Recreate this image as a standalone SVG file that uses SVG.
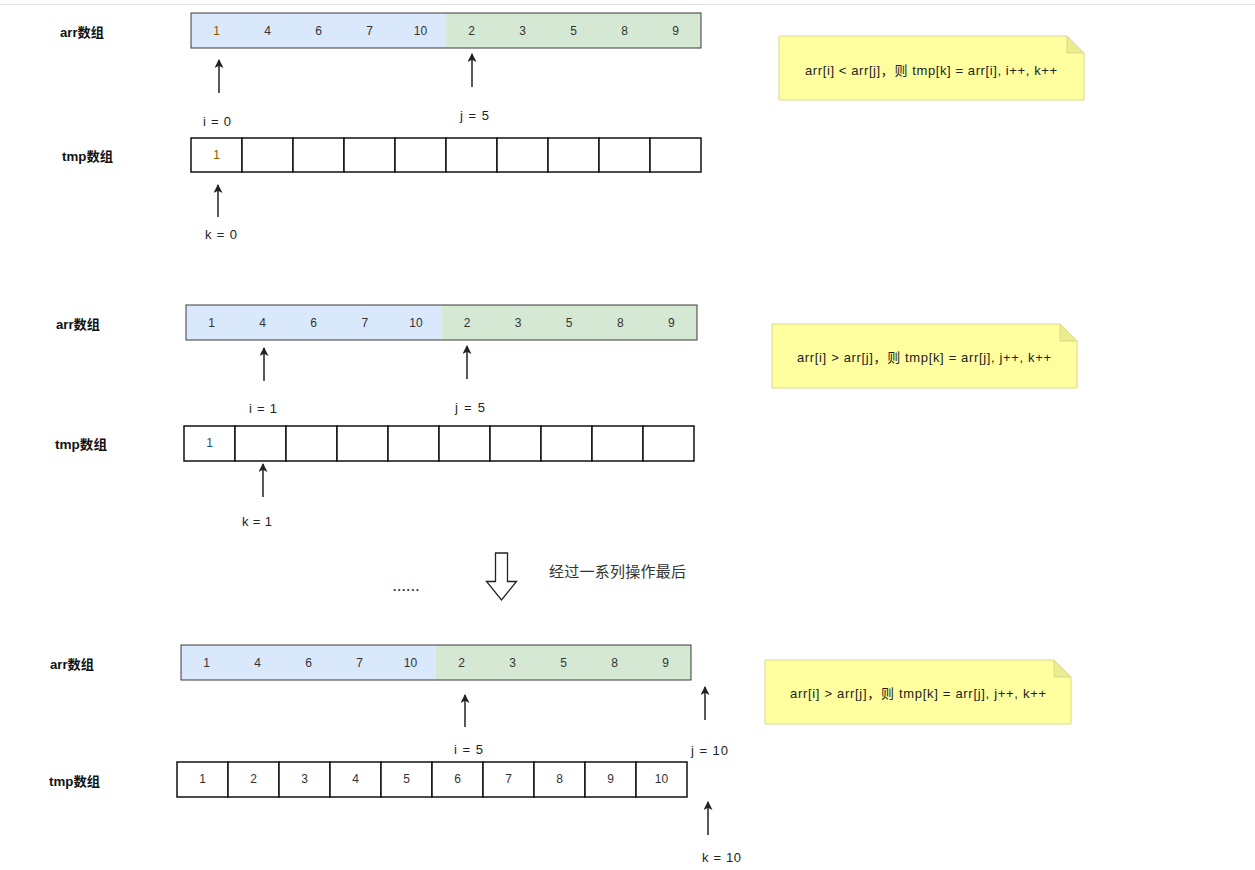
<svg xmlns="http://www.w3.org/2000/svg" width="1255" height="870" viewBox="0 0 1255 870">
<style>
text{font-family:"Liberation Sans","Noto Sans CJK SC",sans-serif;font-size:12px;fill:#333;}
.lbl{font-weight:bold;fill:#111;font-size:13px;}
.pl{font-size:13px;fill:#222;}
.c{text-anchor:middle;}
.blue{fill:#dae8fc;}
.green{fill:#d5e8d4;}
.bar{fill:none;stroke:#3a3a3a;stroke-width:1;}
.cell{fill:#fff;stroke:#111;stroke-width:1.5;}
.arr{stroke:#222;stroke-width:1.5;fill:none;marker-end:url(#ah);}
.note{fill:#ffffa0;stroke:#d9d98c;stroke-width:1;}
.fold{fill:#ebeb90;stroke:#d9d98c;stroke-width:1;}
.nt{font-size:13px;fill:#222;}
</style>
<defs>
<marker id="ah" viewBox="0 0 10 10" refX="9" refY="5" markerWidth="10" markerHeight="9" orient="auto" markerUnits="userSpaceOnUse">
<path d="M0,0 L10,5 L0,10 L2.5,5 Z" fill="#222"/>
</marker>
</defs>
<rect x="0" y="0" width="1255" height="870" fill="#fff"/>
<line x1="0" y1="4.5" x2="1255" y2="4.5" stroke="#e3e3e3" stroke-width="1"/>

<!-- Section 1 -->
<g id="s1-arr-label"><text class="lbl" x="60" y="37" textLength="44" lengthAdjust="spacingAndGlyphs">arr数组</text></g>
<g id="s1-arr">
<rect class="blue" x="191" y="13" width="255" height="35"/>
<rect class="green" x="446" y="13" width="255" height="35"/>
<rect class="bar" x="191" y="13" width="510" height="35"/>
<text class="c" y="35"><tspan x="216.5" fill="#8a5a00">1</tspan><tspan x="267.5">4</tspan><tspan x="318.5">6</tspan><tspan x="369.5">7</tspan><tspan x="420.5">10</tspan><tspan x="471.5">2</tspan><tspan x="522.5">3</tspan><tspan x="573.5">5</tspan><tspan x="624.5">8</tspan><tspan x="675.5">9</tspan></text>
</g>
<g id="s1-tmp-label"><text class="lbl" x="62" y="161" textLength="51" lengthAdjust="spacingAndGlyphs">tmp数组</text></g>
<g id="s1-tmp">
<rect class="cell" x="191" y="138" width="51" height="34"/><rect class="cell" x="242" y="138" width="51" height="34"/><rect class="cell" x="293" y="138" width="51" height="34"/><rect class="cell" x="344" y="138" width="51" height="34"/><rect class="cell" x="395" y="138" width="51" height="34"/><rect class="cell" x="446" y="138" width="51" height="34"/><rect class="cell" x="497" y="138" width="51" height="34"/><rect class="cell" x="548" y="138" width="51" height="34"/><rect class="cell" x="599" y="138" width="51" height="34"/><rect class="cell" x="650" y="138" width="51" height="34"/>
<text class="c" x="216.5" y="159" style="fill:#8a5a00">1</text>
</g>
<g id="s1-i"><text class="pl" x="203" y="126" textLength="28">i = 0</text></g>
<g id="s1-j"><text class="pl" x="460" y="120" textLength="29">j = 5</text></g>
<g id="s1-k"><text class="pl" x="205" y="239" textLength="32">k = 0</text></g>
<g id="s1-note">
<path class="note" d="M779,36 H1067 L1084,53 V100 H779 Z"/>
<path class="fold" d="M1067,36 V53 H1084 Z"/>
<text class="nt" x="805" y="75" textLength="252">arr[i] &lt; arr[j]，则 tmp[k] = arr[i], i++, k++</text>
</g>

<!-- Section 2 -->
<g id="s2-arr-label"><text class="lbl" x="56" y="329" textLength="44" lengthAdjust="spacingAndGlyphs">arr数组</text></g>
<g id="s2-arr">
<rect class="blue" x="186" y="305" width="255.5" height="35"/>
<rect class="green" x="441.5" y="305" width="255.5" height="35"/>
<rect class="bar" x="186" y="305" width="511" height="35"/>
<text class="c" y="327"><tspan x="211.5">1</tspan><tspan x="262.6">4</tspan><tspan x="313.7">6</tspan><tspan x="364.8">7</tspan><tspan x="415.9">10</tspan><tspan x="467">2</tspan><tspan x="518.1">3</tspan><tspan x="569.2">5</tspan><tspan x="620.3">8</tspan><tspan x="671.4">9</tspan></text>
</g>
<g id="s2-tmp-label"><text class="lbl" x="55" y="449" textLength="52" lengthAdjust="spacingAndGlyphs">tmp数组</text></g>
<g id="s2-tmp">
<rect class="cell" x="184" y="426" width="51" height="35"/><rect class="cell" x="235" y="426" width="51" height="35"/><rect class="cell" x="286" y="426" width="51" height="35"/><rect class="cell" x="337" y="426" width="51" height="35"/><rect class="cell" x="388" y="426" width="51" height="35"/><rect class="cell" x="439" y="426" width="51" height="35"/><rect class="cell" x="490" y="426" width="51" height="35"/><rect class="cell" x="541" y="426" width="51" height="35"/><rect class="cell" x="592" y="426" width="51" height="35"/><rect class="cell" x="643" y="426" width="51" height="35"/>
<text class="c" x="209.5" y="447" style="fill:#1f4f8a">1</text>
</g>
<g id="s2-i"><text class="pl" x="249" y="413" textLength="28">i = 1</text></g>
<g id="s2-j"><text class="pl" x="455" y="412" textLength="30">j = 5</text></g>
<g id="s2-k"><text class="pl" x="242" y="526" textLength="30">k = 1</text></g>
<g id="s2-note">
<path class="note" d="M772,324 H1060 L1077,341 V388 H772 Z"/>
<path class="fold" d="M1060,324 V341 H1077 Z"/>
<text class="nt" x="797" y="362" textLength="254">arr[i] &gt; arr[j]，则 tmp[k] = arr[j], j++, k++</text>
</g>

<!-- Middle -->
<g id="dots"><text x="393" y="591" textLength="26" style="font-weight:bold">......</text></g>
<g id="down-arrow">
<path d="M495.5,553 H507.5 V581.5 H516.5 L501.5,600 L486.5,581.5 H495.5 Z" fill="#fff" stroke="#222" stroke-width="1.3"/>
</g>
<g id="caption"><text x="549" y="577" style="font-size:15px" textLength="137">经过一系列操作最后</text></g>

<!-- Section 3 -->
<g id="s3-arr-label"><text class="lbl" x="50" y="669" textLength="44" lengthAdjust="spacingAndGlyphs">arr数组</text></g>
<g id="s3-arr">
<rect class="blue" x="181" y="645" width="255" height="35"/>
<rect class="green" x="436" y="645" width="255" height="35"/>
<rect class="bar" x="181" y="645" width="510" height="35"/>
<text class="c" y="667"><tspan x="206.5">1</tspan><tspan x="257.5">4</tspan><tspan x="308.5">6</tspan><tspan x="359.5">7</tspan><tspan x="410.5">10</tspan><tspan x="461.5">2</tspan><tspan x="512.5">3</tspan><tspan x="563.5">5</tspan><tspan x="614.5">8</tspan><tspan x="665.5">9</tspan></text>
</g>
<g id="s3-tmp-label"><text class="lbl" x="49" y="786" textLength="51" lengthAdjust="spacingAndGlyphs">tmp数组</text></g>
<g id="s3-tmp">
<rect class="cell" x="177" y="762" width="51" height="35"/><rect class="cell" x="228" y="762" width="51" height="35"/><rect class="cell" x="279" y="762" width="51" height="35"/><rect class="cell" x="330" y="762" width="51" height="35"/><rect class="cell" x="381" y="762" width="51" height="35"/><rect class="cell" x="432" y="762" width="51" height="35"/><rect class="cell" x="483" y="762" width="51" height="35"/><rect class="cell" x="534" y="762" width="51" height="35"/><rect class="cell" x="585" y="762" width="51" height="35"/><rect class="cell" x="636" y="762" width="51" height="35"/>
<text class="c" y="783"><tspan x="202.5">1</tspan><tspan x="253.5">2</tspan><tspan x="304.5">3</tspan><tspan x="355.5">4</tspan><tspan x="406.5">5</tspan><tspan x="457.5">6</tspan><tspan x="508.5">7</tspan><tspan x="559.5">8</tspan><tspan x="610.5">9</tspan><tspan x="661.5">10</tspan></text>
</g>
<g id="s3-i"><text class="pl" x="454" y="754" textLength="29">i = 5</text></g>
<g id="s3-j"><text class="pl" x="691" y="755" textLength="37">j = 10</text></g>
<g id="s3-k"><text class="pl" x="702" y="862" textLength="39">k = 10</text></g>
<g id="s3-note">
<path class="note" d="M765,660 H1054 L1071,677 V724 H765 Z"/>
<path class="fold" d="M1054,660 V677 H1071 Z"/>
<text class="nt" x="790" y="698" textLength="256">arr[i] &gt; arr[j]，则 tmp[k] = arr[j], j++, k++</text>
</g>

<g id="connectors">
<line class="arr" x1="219" y1="93" x2="219" y2="60"/>
<line class="arr" x1="472" y1="87" x2="472" y2="54"/>
<line class="arr" x1="218" y1="217" x2="218" y2="185"/>
<line class="arr" x1="264" y1="381" x2="264" y2="348"/>
<line class="arr" x1="467" y1="379" x2="467" y2="346"/>
<line class="arr" x1="263" y1="497" x2="263" y2="464"/>
<line class="arr" x1="465" y1="727" x2="465" y2="695"/>
<line class="arr" x1="705" y1="720" x2="705" y2="687"/>
<line class="arr" x1="708" y1="835" x2="708" y2="802"/>
</g>
</svg>
